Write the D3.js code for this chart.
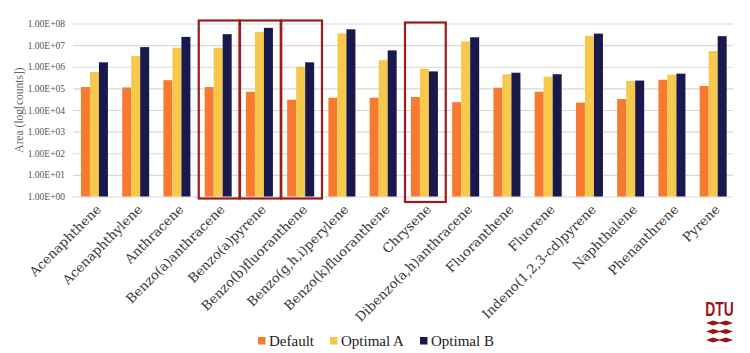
<!DOCTYPE html>
<html>
<head>
<meta charset="utf-8">
<script src="https://cdn.jsdelivr.net/npm/d3@7"></script>
<style>
  html, body { margin: 0; padding: 0; background: #fff; }
  svg { display: block; font-family: "Liberation Serif", "DejaVu Serif", serif; }
</style>
</head>
<body>
<div id="chart"></div>
<script>
// compounds on the x axis
var categories = [
    "Acenaphthene", "Acenaphthylene", "Anthracene", "Benzo(a)anthracene",
    "Benzo(a)pyrene", "Benzo(b)fluoranthene", "Benzo(g,h,i)perylene", "Benzo(k)fluoranthene",
    "Chrysene", "Dibenzo(a,h)anthracene", "Fluoranthene", "Fluorene",
    "Indeno(1,2,3-cd)pyrene", "Naphthalene", "Phenanthrene", "Pyrene"
];
var seriesNames = ["Default", "Optimal A", "Optimal B"];

// peak areas (counts)
var defaultValues = [1.15e5, 1.1e5, 2.4e5, 1.15e5, 7e4, 3e4, 3.7e4, 3.7e4, 4e4, 2.3e4, 1.07e5, 7e4, 2.2e4, 3.2e4, 2.5e5, 1.3e5];
var optimalAValues = [5.7e5, 3.2e6, 7.6e6, 7.6e6, 4e7, 1e6, 3.5e7, 2e6, 8.1e5, 1.5e7, 4.5e5, 3.5e5, 2.7e7, 2.2e5, 4.3e5, 5.3e6];
var optimalBValues = [1.6e6, 8.1e6, 2.4e7, 3.2e7, 6.3e7, 1.6e6, 5.4e7, 5.7e6, 6.1e5, 2.3e7, 5.3e5, 4.5e5, 3.4e7, 2.3e5, 4.8e5, 2.6e7];

var yTicks = [1e0, 1e1, 1e2, 1e3, 1e4, 1e5, 1e6, 1e7, 1e8];
var yTickLabels = ["1.00E+00", "1.00E+01", "1.00E+02", "1.00E+03", "1.00E+04", "1.00E+05", "1.00E+06", "1.00E+07", "1.00E+08"];

// compounds highlighted with a red frame
var highlighted = ["Benzo(a)anthracene", "Benzo(a)pyrene", "Benzo(b)fluoranthene", "Chrysene"];

var colors = ["#f77a30", "#f6c94c", "#19194d"];

var width = 750, height = 353;
var plot = {left: 73, right: 733, top: 23.5, bottom: 196.5};

var svg = d3.select("#chart").append("svg")
    .attr("width", width)
    .attr("height", height);

var xScale = d3.scaleBand().domain(categories).range([plot.left, plot.right]);
var seriesScale = d3.scaleBand().domain(seriesNames).range([0, 27]);
var yScale = d3.scaleLog().domain([1, 1e8]).range([plot.bottom, plot.top]);

// grid + y axis labels
var yAxis = d3.axisLeft(yScale)
    .tickValues(yTicks)
    .tickFormat(function (d, i) { return yTickLabels[i]; })
    .tickSize(-(plot.right - plot.left))
    .tickPadding(8);
var gy = svg.append("g")
    .attr("class", "y-axis")
    .attr("transform", "translate(" + plot.left + ",0)")
    .call(yAxis);
gy.select(".domain").remove();
gy.selectAll("line").attr("stroke", "#d9d9d9").attr("stroke-width", 1.2);
gy.selectAll("text")
    .attr("fill", "#555")
    .style("font-size", "9.5px")
    .style("font-family", "'Liberation Serif', serif");

svg.append("text")
    .attr("transform", "translate(23," + ((plot.top + plot.bottom) / 2) + ") rotate(-90)")
    .attr("text-anchor", "middle")
    .attr("fill", "#666")
    .style("font-size", "11.5px")
    .text("Area (log[counts])");

// bars
var table = categories.map(function (c, i) {
    return {name: c, values: [defaultValues[i], optimalAValues[i], optimalBValues[i]]};
});
var groups = svg.append("g").attr("class", "bars")
    .selectAll("g").data(table).enter().append("g")
    .attr("transform", function (d) {
        return "translate(" + (xScale(d.name) + (xScale.bandwidth() - 27) / 2 + 0.8) + ",0)";
    });
groups.selectAll("rect")
    .data(function (d) { return d.values.map(function (v, j) { return {series: seriesNames[j], value: v, idx: j}; }); })
    .enter().append("rect")
    .attr("x", function (d) { return seriesScale(d.series); })
    .attr("width", seriesScale.bandwidth())
    .attr("y", function (d) { return yScale(d.value); })
    .attr("height", function (d) { return plot.bottom - yScale(d.value); })
    .attr("fill", function (d) { return colors[d.idx]; });

// red frames
svg.append("g").attr("class", "frames")
    .selectAll("rect").data(highlighted).enter().append("rect")
    .attr("x", function (d) { return xScale(d) + 2; })
    .attr("y", function (d) { return d === "Chrysene" ? 22.5 : 20.5; })
    .attr("width", xScale.bandwidth() - 0.5)
    .attr("height", function (d) { return d === "Chrysene" ? 179.5 : 178; })
    .attr("fill", "none")
    .attr("stroke", "#9c1c1c")
    .attr("stroke-width", 2.2);

// x labels, rotated
svg.append("g").attr("class", "x-labels")
    .selectAll("text").data(categories).enter().append("text")
    .attr("transform", function (d) {
        return "translate(" + (xScale(d) + xScale.bandwidth() / 2 + 5) + ",207) rotate(-45)";
    })
    .attr("text-anchor", "end")
    .attr("dy", "0.35em")
    .attr("fill", "#3a3a3a")
    .style("font-family", "'DejaVu Serif', serif")
    .style("font-size", "13px")
    .text(function (d) { return d; });

// legend
var legendX = [258, 330, 420];
var legend = svg.append("g").attr("class", "legend")
    .selectAll("g").data(seriesNames).enter().append("g")
    .attr("transform", function (d, i) { return "translate(" + legendX[i] + ",341)"; });
legend.append("rect")
    .attr("x", 0).attr("y", -4).attr("width", 7.5).attr("height", 7.5)
    .attr("fill", function (d, i) { return colors[i]; });
legend.append("text")
    .attr("x", 11)
    .attr("dy", "0.35em")
    .attr("fill", "#222")
    .style("font-size", "15px")
    .text(function (d) { return d; });

// DTU logo
var logo = svg.append("g").attr("transform", "translate(706,300)");
logo.append("text")
    .attr("transform", "translate(13.5,15.5) scale(0.66,1)")
    .attr("text-anchor", "middle")
    .attr("fill", "#9c1515")
    .style("font-family", "'Liberation Sans', sans-serif")
    .style("font-weight", "bold")
    .style("font-size", "21px")
    .text("DTU");
[23, 31.5, 40].forEach(function (yy) {
    logo.append("path")
        .attr("d", "M0," + yy + " L7," + (yy - 2.6) + " L13.5," + (yy - 0.6) + " L20," + (yy - 2.6) + " L27," + yy +
            " L20," + (yy + 2.6) + " L13.5," + (yy + 0.6) + " L7," + (yy + 2.6) + " Z")
        .attr("fill", "#9c1515");
});
</script>
</body>
</html>
